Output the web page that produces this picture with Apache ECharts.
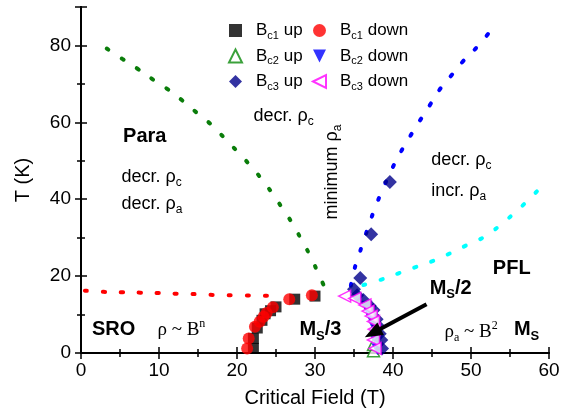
<!DOCTYPE html>
<html>
<head>
<meta charset="utf-8">
<script src="https://cdn.jsdelivr.net/npm/echarts@6/dist/echarts.min.js"></script>
<style>
  html, body { margin: 0; padding: 0; background: #fff; }
  #chart { width: 574px; height: 418px; }
</style>
</head>
<body>
<div id="chart"></div>
<script>
// measured points [field (T), temperature (K)]
const bc1Up = [[22.1, 1.2], [22.1, 3.8], [22.6, 6.5], [23.2, 8.5], [23.6, 10.2], [24.3, 11.0], [25.0, 12.0], [27.4, 14.0], [30.0, 14.8]]
const bc1Down = [[21.3, 1.2], [21.5, 3.8], [22.3, 6.8], [22.9, 8.1], [23.4, 9.4], [23.8, 10.4], [24.6, 11.9], [26.7, 14.0], [29.6, 15.0]]
const bc2Up = [[37.5, 0.6], [37.5, 2.2]]
const bc2Down = [[36.6, 12.0], [37.0, 10.2], [37.3, 8.6], [37.6, 6.8], [37.8, 4.8], [37.9, 2.8], [38.0, 1.0]]
const bc3Up = [[39.6, 44.5], [37.2, 30.9], [35.8, 19.5], [35.0, 16.6], [35.4, 15.0], [36.2, 13.8], [37.0, 12.3], [37.5, 11.2], [37.9, 8.8], [38.1, 7.0], [38.3, 5.0], [38.5, 3.4], [38.6, 1.2]]
const bc3Down = [[33.8, 14.8], [35.1, 14.2], [36.4, 12.5], [36.8, 10.9], [37.2, 9.6], [37.5, 8.2], [37.6, 6.2], [37.5, 3.4], [37.7, 1.2]]

// phase boundaries (dotted guides)
const greenLine = [[3.3, 79.2], [5.3, 76.5], [7.2, 74.0], [9.4, 70.9], [11.2, 68.5], [13.1, 65.5], [14.9, 62.4], [16.7, 59.4], [18.4, 55.9], [20.0, 52.5], [21.6, 49.0], [23.1, 45.4], [24.5, 41.6], [25.8, 37.7], [27.1, 33.7], [28.2, 29.7], [29.3, 25.6], [30.3, 21.3], [31.2, 17.2]]
const redLine = [[0.5, 16.2], [2.9, 15.9], [5.2, 15.8], [7.6, 15.7], [10.0, 15.6], [12.4, 15.4], [14.8, 15.3], [17.0, 15.1], [20.5, 15.0], [24.0, 14.9]]
const blueLine = [[34.6, 17.5], [35.0, 21.4], [35.7, 25.9], [36.4, 30.2], [37.2, 35.0], [38.0, 39.3], [38.9, 43.6], [39.9, 48.0], [41.0, 52.3], [42.2, 56.4], [43.4, 60.3], [44.7, 64.4], [45.9, 68.3], [47.4, 72.0], [48.9, 75.7], [50.5, 79.0], [52.2, 83.0]]
const cyanLine = [[36.2, 17.7], [38.5, 19.1], [40.8, 20.8], [43.0, 22.4], [45.2, 24.0], [47.3, 25.9], [49.4, 28.0], [51.7, 30.2], [53.6, 33.0], [55.5, 36.3], [57.3, 39.7], [59.0, 43.2]]

// axis ticks
const xTicks = [0, 10, 20, 30, 40, 50, 60]
const yTicks = [0, 20, 40, 60, 80]

// arrow pointing at the Ms/2 plateau
const arrowFrom = [44.3, 12.7]
const arrowTo = [37.4, 5.2]

// text labels placed in data coordinates [x, y, rich text, rotated]
const labels = [
  [5.4, 56.2, '{bd|Para}'],
  [5.2, 45.8, '{n|decr. ρ}{s|c}'],
  [5.2, 38.8, '{n|decr. ρ}{s|a}'],
  [22.1, 61.7, '{n|decr. ρ}{s|c}'],
  [32.2, 47.1, '{n|minimum ρ}{s|a}', true],
  [44.9, 50.2, '{n|decr. ρ}{s|c}'],
  [44.9, 42.1, '{n|incr. ρ}{s|a}'],
  [52.8, 22.1, '{bd|PFL}'],
  [1.4, 6.0, '{bd|SRO}'],
  [9.8, 6.0, '{sf|ρ ~ B}{sup|n}'],
  [28.0, 6.0, '{bd|M}{bs|S}{bd|/3}'],
  [44.7, 16.9, '{bd|M}{bs|S}{bd|/2}'],
  [46.6, 5.5, '{sf|ρ}{ss|a}{sf| ~ B}{sup|2}'],
  [55.5, 6.0, '{bd|M}{bs|S}']
]

const FONT = 'Liberation Sans'
const richText = {
  n: { fontFamily: FONT, fontSize: 18, color: '#000' },
  s: { fontFamily: FONT, fontSize: 12, color: '#000', padding: [12, 0, 0, 0] },
  bd: { fontFamily: FONT, fontSize: 20, fontWeight: 'bold', color: '#000' },
  bs: { fontFamily: FONT, fontSize: 13, fontWeight: 'bold', color: '#000', padding: [12, 0, 0, 0] },
  sf: { fontFamily: 'Liberation Serif', fontSize: 19, color: '#000' },
  ss: { fontFamily: 'Liberation Serif', fontSize: 12, color: '#000', padding: [12, 0, 0, 0] },
  sup: { fontFamily: 'Liberation Serif', fontSize: 12, color: '#000', padding: [0, 0, 12, 0] }
}

const chart = echarts.init(document.getElementById('chart'))

const dotted = (data, color) => ({
  type: 'line',
  data: data,
  smooth: true,
  showSymbol: false,
  silent: true,
  lineStyle: { color: color, width: 4, type: [2, 16], cap: 'round' },
  z: 1
})

const legendText = {
  fontFamily: FONT,
  fontSize: 17,
  color: '#000',
  rich: {
    f: { fontFamily: FONT, fontSize: 17, color: '#000', padding: [0, 0, 0, 9] },
    b: { fontFamily: FONT, fontSize: 17, color: '#000' },
    c: { fontFamily: FONT, fontSize: 11, color: '#000', padding: [10, 0, 0, 0] }
  }
}
const legendFormat = (name) => {
  const m = name.match(/^B(c\d) (.*)$/)
  return '{f|B}{c|' + m[1] + '}{b| ' + m[2] + '}'
}

const hiddenAxis = {
  min: 0,
  axisLine: { show: true, lineStyle: { color: '#000', width: 2 } },
  axisTick: { show: true, inside: true, length: 6, lineStyle: { color: '#000', width: 1.5 } },
  minorTick: { show: true, splitNumber: 2, length: 4, lineStyle: { color: '#000', width: 1.5 } },
  axisLabel: { show: false },
  splitLine: { show: false }
}

const legendBase = {
  orient: 'vertical',
  top: 22, padding: 0,
  itemWidth: 13, itemHeight: 13, itemGap: 6.5,
  selectedMode: false,
  formatter: legendFormat,
  textStyle: legendText
}

const option = {
  animation: false,
  backgroundColor: '#fff',
  grid: { left: 81, right: 25, top: 7, bottom: 65 },
  legend: [
    Object.assign({ data: ['Bc1 up', 'Bc2 up', 'Bc3 up'], left: 228 }, legendBase),
    Object.assign({ data: ['Bc1 down', 'Bc2 down', 'Bc3 down'], left: 312 }, legendBase)
  ],
  xAxis: [
    {
      type: 'value', min: xTicks[0], max: xTicks[xTicks.length - 1], interval: 10,
      name: 'Critical Field (T)', nameLocation: 'middle', nameGap: 35,
      nameTextStyle: { fontFamily: FONT, fontSize: 20, color: '#000' },
      axisLine: { lineStyle: { color: '#000', width: 2 } },
      axisTick: { inside: true, length: 6, lineStyle: { color: '#000', width: 1.5 } },
      minorTick: { show: true, splitNumber: 2, length: 4, lineStyle: { color: '#000', width: 1.5 } },
      axisLabel: { fontFamily: FONT, fontSize: 19, color: '#000', margin: 8 },
      splitLine: { show: false }
    },
    Object.assign({ type: 'value', position: 'top', max: 60, interval: 10 }, hiddenAxis)
  ],
  yAxis: [
    {
      type: 'value', min: yTicks[0], max: 90, interval: 20,
      name: 'T (K)', nameLocation: 'middle', nameGap: 48,
      nameTextStyle: { fontFamily: FONT, fontSize: 20, color: '#000' },
      axisLine: { lineStyle: { color: '#000', width: 2 } },
      axisTick: { inside: true, length: 6, lineStyle: { color: '#000', width: 1.5 } },
      minorTick: { show: true, splitNumber: 2, length: 4, lineStyle: { color: '#000', width: 1.5 } },
      axisLabel: { fontFamily: FONT, fontSize: 19, color: '#000', margin: 10, showMaxLabel: false },
      splitLine: { show: false }
    },
    Object.assign({ type: 'value', position: 'right', max: 90, interval: 20 }, hiddenAxis)
  ],
  series: [
    dotted(greenLine, '#0a7d0a'),
    dotted(redLine, '#ff0000'),
    dotted(blueLine, '#0000ff'),
    dotted(cyanLine, '#00ffff'),
    {
      name: 'Bc1 up', type: 'scatter', data: bc1Up,
      symbol: 'rect', symbolSize: 11,
      itemStyle: { color: '#000' }, z: 3
    },
    {
      name: 'Bc1 down', type: 'scatter', data: bc1Down,
      symbol: 'circle', symbolSize: 12,
      itemStyle: { color: '#ff0000' }, z: 4
    },
    {
      name: 'Bc2 up', type: 'scatter', data: bc2Up,
      symbol: 'triangle', symbolSize: 12,
      itemStyle: { color: '#fff', borderColor: '#0a8a0a', borderWidth: 1.5 }, z: 2
    },
    {
      name: 'Bc2 down', type: 'scatter', data: bc2Down,
      symbol: 'path://M0,0 L10,0 L5,10 Z', symbolSize: 12,
      itemStyle: { color: '#0000ff' }, z: 3
    },
    {
      name: 'Bc3 up', type: 'scatter', data: bc3Up,
      symbol: 'diamond', symbolSize: 14,
      itemStyle: { color: '#00008b' }, z: 4
    },
    {
      name: 'Bc3 down', type: 'scatter', data: bc3Down,
      symbol: 'path://M0,5 L10,0 L10,10 Z', symbolSize: 12,
      itemStyle: { color: '#fff', borderColor: '#ff00ff', borderWidth: 1.5 }, z: 5
    },
    {
      type: 'line', data: [], silent: true, z: 8,
      markLine: {
        silent: true,
        z: 8,
        symbol: ['none', 'triangle'],
        symbolSize: [14, 18],
        label: { show: false },
        lineStyle: { color: '#000', width: 4, type: 'solid', opacity: 1 },
        itemStyle: { color: '#000' },
        data: [[{ coord: arrowFrom }, { coord: arrowTo }]]
      }
    }
  ]
}

chart.setOption(option)

// place the region labels once the axes exist
const graphics = labels.map(([x, y, text, rotated]) => {
  const p = chart.convertToPixel({ seriesIndex: 0 }, [x, y])
  return {
    type: 'text',
    x: p[0], y: p[1],
    rotation: rotated ? Math.PI / 2 : 0,
    silent: true,
    z: 10,
    style: {
      text: text,
      rich: richText,
      align: rotated ? 'center' : 'left',
      verticalAlign: 'middle'
    }
  }
})
chart.setOption({ graphic: graphics })
</script>
</body>
</html>
